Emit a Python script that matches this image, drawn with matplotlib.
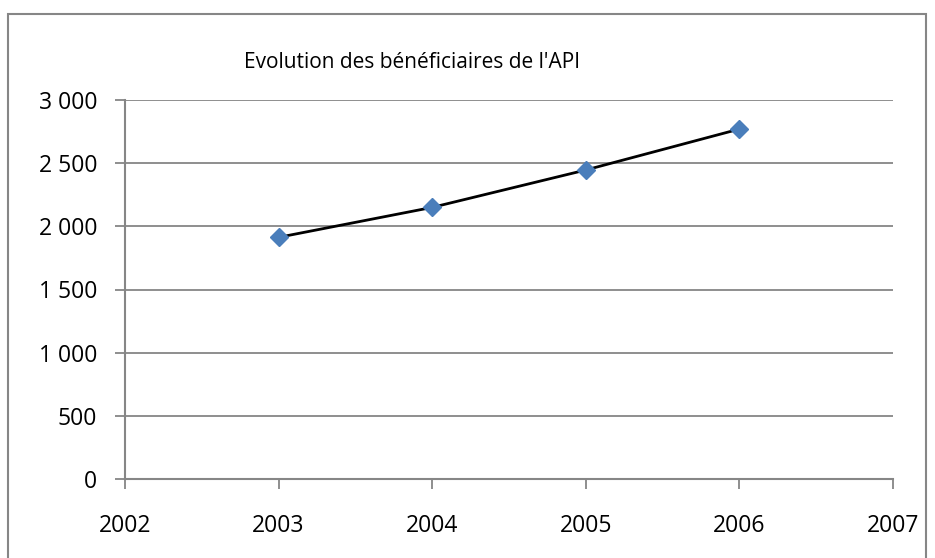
import matplotlib.pyplot as plt
from matplotlib.patches import Rectangle
from matplotlib.ticker import FuncFormatter

# Bénéficiaires de l'API par année
years = [2003, 2004, 2005, 2006]
beneficiaires = [1913, 2150, 2446, 2770]
x_ticks = [2002, 2003, 2004, 2005, 2006, 2007]
y_ticks = [0, 500, 1000, 1500, 2000, 2500, 3000]

plt.rcParams['font.family'] = ['Open Sans', 'DejaVu Sans']
grey = '#868686'

fig = plt.figure(figsize=(9.35, 5.58), dpi=100)
ax = fig.add_axes([125 / 935, 79 / 558, 768 / 935, 379 / 558])

# cadre extérieur
fig.patches.append(Rectangle((8 / 935, -0.01), 918 / 935, 544 / 558 + 0.01,
                             transform=fig.transFigure, fill=False,
                             edgecolor=grey, linewidth=1.5))

ax.plot(years, beneficiaires, color='black', linewidth=2, zorder=3)
ax.plot(years, beneficiaires, linestyle='none', marker='D', markersize=9.5,
        color='#4a7ebb', zorder=4)

ax.set_xlim(2002, 2007)
ax.set_ylim(0, 3000)
ax.set_xticks(x_ticks)
ax.set_yticks(y_ticks)
ax.yaxis.set_major_formatter(FuncFormatter(lambda v, p: f'{int(v):,}'.replace(',', ' ')))
ax.grid(axis='y', color=grey, linewidth=1.3)
ax.set_axisbelow(True)

for s in ['top', 'right']:
    ax.spines[s].set_visible(False)
for s in ['left', 'bottom']:
    ax.spines[s].set_color(grey)
    ax.spines[s].set_linewidth(1.5)
ax.tick_params(axis='both', colors=grey, labelcolor='black', labelsize=16.5,
               length=7, width=1.3)
ax.tick_params(axis='x', pad=18)
ax.tick_params(axis='y', pad=13)

fig.text(412 / 935, 1 - 62 / 558, "Evolution des bénéficiaires de l'API",
         ha='center', va='center', fontsize=15)

fig.savefig('out.png', dpi=100)
